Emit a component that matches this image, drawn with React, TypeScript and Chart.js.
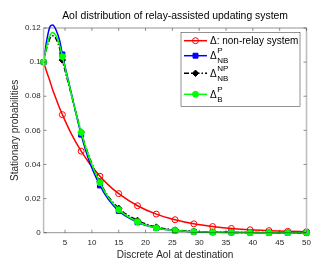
import React, { useEffect, useRef } from 'react';
import { Chart, registerables } from 'chart.js';
Chart.register(...registerables);

const xValues = [1, 1.6, 2.2, 2.7, 3.3, 4, 4.5, 6, 8, 9.5, 11.5, 13, 15, 18.5, 22, 25.5, 29, 32.5, 36, 39.5, 43, 46.5, 50];
const markerX = [1, 4.5, 8, 11.5, 15, 18.5, 22, 25.5, 29, 32.5, 36, 39.5, 43, 46.5, 50];
const nonRelay = [0.1, 0.0941, 0.0887, 0.0836, 0.0787, 0.0729, 0.0692, 0.059, 0.0478, 0.0409, 0.0331, 0.0282, 0.0229, 0.0158, 0.0109, 0.0076, 0.0052, 0.0036, 0.0025, 0.0017, 0.0012, 0.0008, 0.0006];
const relayNbP = [0.1, 0.113, 0.1208, 0.1218, 0.119, 0.1125, 0.1045, 0.084, 0.0575, 0.042, 0.0277, 0.0198, 0.0128, 0.0061, 0.0028, 0.0013, 0.0006, 0.0003, 0.00013, 0.00006, 0.00003, 0.00001, 0.000005];
const relayNbNP = [0.1, 0.1085, 0.114, 0.1154, 0.1138, 0.108, 0.1012, 0.083, 0.059, 0.0445, 0.0298, 0.0215, 0.0143, 0.0072, 0.0033, 0.0016, 0.0008, 0.0004, 0.0002, 0.0001, 0.00005, 0.00002, 0.00001];
const relayBP = [0.1, 0.1095, 0.1158, 0.1173, 0.1155, 0.1095, 0.1032, 0.0835, 0.0587, 0.044, 0.0293, 0.021, 0.0135, 0.0064, 0.0028, 0.0013, 0.0006, 0.0003, 0.00013, 0.00006, 0.00003, 0.00001, 0.000005];
const xTicks = [5, 10, 15, 20, 25, 30, 35, 40, 45, 50];
const yTicks = [0, 0.02, 0.04, 0.06, 0.08, 0.1, 0.12];
const yTickLabels = ['0', '0.02', '0.04', '0.06', '0.08', '0.1', '0.12'];
const titleText = 'AoI distribution of relay-assisted updating system';
const xTitle = 'Discrete AoI at destination';
const yTitle = 'Stationary probabilities';
const legendBase = ['Δ', 'Δ', 'Δ', 'Δ'];
const legendRest = [': non-relay system', '', '', ''];
const legendSup = ['', 'P', 'NP', 'P'];
const legendSub = ['', 'NB', 'NB', 'B'];

const FONT = "'Liberation Sans', Arial, Helvetica, sans-serif";

const seriesStyles = [
  { color: '#ff0000', style: 'circle', radius: 3, fill: false, dash: [] as number[] },
  { color: '#0000ff', style: 'rect', radius: 3.5, fill: true, dash: [] as number[] },
  { color: '#000000', style: 'rectRot', radius: 3.2, fill: true, dash: [5, 2, 1.5, 2] },
  { color: '#00ff00', style: 'circle', radius: 3, fill: true, dash: [] as number[] },
];

const overlay = {
  id: 'overlay',
  afterDraw(chart: any) {
    const { ctx, chartArea } = chart;
    const { left, right, top, bottom } = chartArea;
    const xs = chart.scales.x;
    const ys = chart.scales.y;
    ctx.save();
    // title
    ctx.fillStyle = '#000000';
    ctx.font = `10.4px ${FONT}`;
    ctx.textAlign = 'center';
    ctx.textBaseline = 'middle';
    ctx.fillText(titleText, (left + right) / 2, 16.5);
    // box
    ctx.strokeStyle = '#262626';
    ctx.lineWidth = 0.5;
    ctx.beginPath();
    ctx.moveTo(left, top);
    ctx.lineTo(right, top);
    ctx.moveTo(left, bottom);
    ctx.lineTo(right, bottom);
    ctx.stroke();
    ctx.strokeStyle = '#bdbdbd';
    ctx.lineWidth = 1.5;
    ctx.beginPath();
    ctx.moveTo(left, top);
    ctx.lineTo(left, bottom);
    ctx.moveTo(right, top);
    ctx.lineTo(right, bottom);
    ctx.stroke();
    // ticks
    ctx.strokeStyle = '#262626';
    ctx.lineWidth = 0.5;
    ctx.beginPath();
    xTicks.forEach((v) => {
      const px = xs.getPixelForValue(v);
      ctx.moveTo(px, bottom);
      ctx.lineTo(px, bottom - 3);
      ctx.moveTo(px, top);
      ctx.lineTo(px, top + 3);
    });
    yTicks.forEach((v) => {
      const py = ys.getPixelForValue(v);
      ctx.moveTo(left, py);
      ctx.lineTo(left + 3, py);
      ctx.moveTo(right, py);
      ctx.lineTo(right - 3, py);
    });
    ctx.stroke();

    // legend
    const lx = 181, ly = 32.3, lw = 119, lh = 74;
    ctx.fillStyle = '#ffffff';
    ctx.fillRect(lx, ly, lw, lh);
    ctx.strokeStyle = '#262626';
    ctx.lineWidth = 0.5;
    ctx.strokeRect(lx, ly, lw, lh);
    const rowsY = [40.7, 55.7, 73.3, 94.3];
    rowsY.forEach((ry, i) => {
      const s = seriesStyles[i];
      ctx.strokeStyle = s.color;
      ctx.lineWidth = 1.5;
      ctx.setLineDash(s.dash);
      ctx.beginPath();
      ctx.moveTo(184, ry);
      ctx.lineTo(207, ry);
      ctx.stroke();
      ctx.setLineDash([]);
      ctx.lineWidth = 1;
      ctx.fillStyle = s.color;
      const mx = 195.5;
      ctx.beginPath();
      if (s.style === 'circle') {
        ctx.arc(mx, ry, s.radius, 0, Math.PI * 2);
      } else if (s.style === 'rect') {
        const h = s.radius * Math.SQRT1_2;
        ctx.rect(mx - h, ry - h, 2 * h, 2 * h);
      } else {
        ctx.moveTo(mx, ry - s.radius);
        ctx.lineTo(mx + s.radius, ry);
        ctx.lineTo(mx, ry + s.radius);
        ctx.lineTo(mx - s.radius, ry);
        ctx.closePath();
      }
      if (s.fill) ctx.fill();
      ctx.stroke();
      // text
      ctx.fillStyle = '#000000';
      ctx.textBaseline = 'middle';
      ctx.textAlign = 'left';
      ctx.font = `10px ${FONT}`;
      const tx = 210;
      ctx.fillText(legendBase[i] + legendRest[i], tx, ry + 0.5);
      const bw = ctx.measureText(legendBase[i]).width;
      ctx.font = `8px ${FONT}`;
      if (legendSup[i]) ctx.fillText(legendSup[i], tx + bw + 0.5, ry - 5);
      if (legendSub[i]) ctx.fillText(legendSub[i], tx + bw + 0.5, ry + 5.5);
    });
    ctx.restore();
  },
};

export default function App() {
  const ref = useRef<HTMLCanvasElement>(null);
  useEffect(() => {
    document.body.style.margin = '0';
    const datasets = [nonRelay, relayNbP, relayNbNP, relayBP].map((vals, i) => {
      const s = seriesStyles[i];
      return {
        label: ['non-relay', 'NB P', 'NB NP', 'B P'][i],
        data: xValues.map((x, j) => ({ x, y: vals[j] })),
        borderColor: s.color,
        backgroundColor: s.fill ? s.color : 'rgba(0,0,0,0)',
        borderWidth: 1.5,
        borderDash: s.dash,
        pointStyle: s.style,
        pointRadius: (c: any) => (markerX.includes(xValues[c.dataIndex]) ? s.radius : 0),
        pointBorderWidth: 1,
        pointBorderColor: s.color,
        pointBackgroundColor: s.fill ? s.color : 'rgba(0,0,0,0)',
        cubicInterpolationMode: 'monotone',
        clip: false,
        order: 4 - i,
      };
    });
    const chart = new Chart(ref.current!, {
      type: 'line',
      data: { datasets } as any,
      options: {
        animation: false,
        responsive: false,
        layout: { padding: { left: 0, right: 25.5, top: 28, bottom: 0 } },
        plugins: {
          legend: { display: false },
          tooltip: { enabled: false },
          title: { display: false },
        },
        scales: {
          x: {
            type: 'linear',
            min: 1,
            max: 50,
            afterBuildTicks: (sc: any) => { sc.ticks = xTicks.map((v) => ({ value: v })); },
            afterFit: (sc: any) => { sc.height = 35.3; },
            grid: { display: false, drawTicks: false },
            border: { display: false },
            ticks: { color: '#262626', font: { family: FONT, size: 8 }, padding: 5, maxRotation: 0, autoSkip: false, callback: (v: any) => String(v) },
            title: { display: true, text: xTitle, color: '#262626', font: { family: FONT, size: 10 }, padding: { top: 0, bottom: 7 } },
          },
          y: {
            type: 'linear',
            min: 0,
            max: 0.12,
            afterBuildTicks: (sc: any) => { sc.ticks = yTicks.map((v) => ({ value: v })); },
            afterFit: (sc: any) => { sc.width = 43.6; },
            grid: { display: false, drawTicks: false },
            border: { display: false },
            ticks: { color: '#262626', font: { family: FONT, size: 8 }, padding: 3, autoSkip: false, callback: (v: any) => yTickLabels[yTicks.indexOf(v)] ?? '' },
            title: { display: true, text: yTitle, color: '#262626', font: { family: FONT, size: 10 }, padding: { top: 9.5, bottom: 0 } },
          },
        },
      } as any,
      plugins: [overlay],
    });
    return () => chart.destroy();
  }, []);
  return <canvas ref={ref} width={332} height={268} style={{ display: 'block' }} />;
}
